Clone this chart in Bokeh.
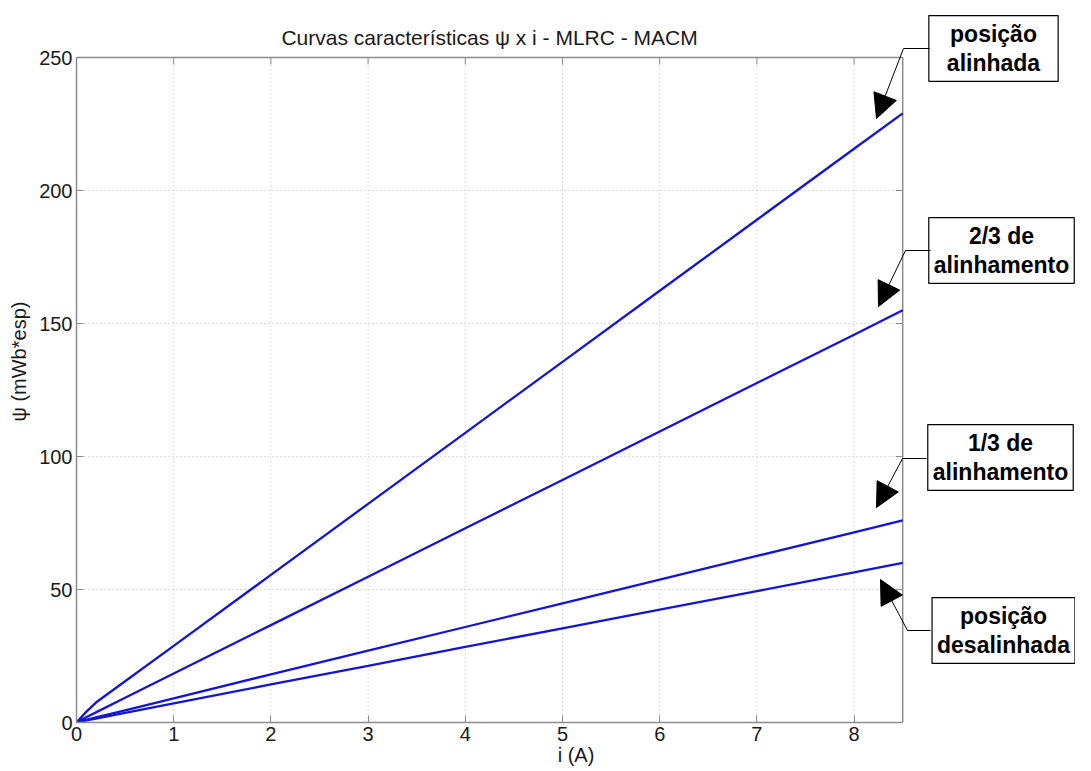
from bokeh.plotting import figure
from bokeh.models import Range1d, FixedTicker, Label, Arrow, NormalHead
from bokeh.embed import file_html
from bokeh.resources import INLINE

# data
i_vals = [0, 0.1, 0.2, 0.5, 1, 2, 3, 4, 5, 6, 7, 8, 8.5]
psi_alinhada = [0, 4.0, 7.5, 15.5, 28.8, 55.5, 82.2, 108.9, 135.6, 162.3, 189.0, 215.7, 229.0]
psi_2_3 = [0, 2.0, 3.8, 9.3, 18.4, 36.6, 54.8, 73.0, 91.2, 109.4, 127.6, 145.8, 155.0]
psi_1_3 = [0, 1.0, 1.9, 4.6, 9.1, 18.1, 27.0, 35.9, 44.8, 53.7, 62.6, 71.5, 76.0]
psi_desalinhada = [0, 0.8, 1.5, 3.6, 7.2, 14.3, 21.3, 28.4, 35.4, 42.4, 49.4, 56.4, 60.0]
x_ticks = [0, 1, 2, 3, 4, 5, 6, 7, 8]
y_ticks = [0, 50, 100, 150, 200, 250]
X_MAX, Y_MAX = 8.5, 250
title_text = "Curvas características ψ x i - MLRC - MACM"
box_texts = ["posição\nalinhada", "2/3 de\nalinhamento", "1/3 de\nalinhamento", "posição\ndesalinhada"]

# layout: frame covers the plot area plus the annotation area on the right/top
W, H = 1075, 768
LEFT, BOTTOM = 76, 46
PX_X = 97.2   # pixels per A
PX_Y = 2.66   # pixels per mWb*esp
Y0_PX = H - BOTTOM

p = figure(width=W, height=H, output_backend="svg", toolbar_location=None,
           x_range=Range1d(0, (W - LEFT) / PX_X), y_range=Range1d(0, Y0_PX / PX_Y),
           min_border_left=LEFT, min_border_right=0, min_border_top=0, min_border_bottom=BOTTOM)
p.outline_line_color = None
p.xgrid.visible = False
p.ygrid.visible = False

AX = "#8c8c8c"
for ax in p.xaxis + p.yaxis:
    ax.axis_line_color = AX
    ax.axis_line_width = 1.5
    ax.major_tick_in = 7
    ax.major_tick_out = 0
    ax.minor_tick_line_color = None
    ax.major_tick_line_color = AX
    ax.major_label_text_font = "Liberation Sans"
    ax.major_label_text_font_size = "20px"
    ax.major_label_text_color = "#1a1a1a"
    ax.axis_label_text_font = "Liberation Sans"
    ax.axis_label_text_font_size = "20px"
    ax.axis_label_text_font_style = "normal"
    ax.axis_label_text_color = "#1a1a1a"
p.xaxis.ticker = FixedTicker(ticks=x_ticks)
p.yaxis.ticker = FixedTicker(ticks=y_ticks)
p.xaxis.bounds = (0, X_MAX)
p.yaxis.bounds = (0, Y_MAX)
p.xaxis.axis_label = "i (A)"
p.yaxis.axis_label = "ψ (mWb*esp)"
p.xaxis.major_label_standoff = 4
p.xaxis.axis_label_standoff = 0
p.yaxis.major_label_standoff = 4
p.yaxis.axis_label_standoff = 6

def dx(px):
    return (px - LEFT) / PX_X

def dy(py):
    return (Y0_PX - py) / PX_Y

# dotted grid inside the axes box
p.segment(x0=x_ticks[1:], y0=[0] * (len(x_ticks) - 1), x1=x_ticks[1:], y1=[Y_MAX] * (len(x_ticks) - 1),
          line_color="#bdbdbd", line_dash="1 3", line_width=1)
p.segment(x0=[0] * (len(y_ticks) - 1), y0=y_ticks[1:], x1=[X_MAX] * (len(y_ticks) - 1), y1=y_ticks[1:],
          line_color="#bdbdbd", line_dash="1 3", line_width=1)

# top and right edges of the axes box with inward ticks
p.line([0, X_MAX, X_MAX], [Y_MAX, Y_MAX, 0], line_color=AX, line_width=1.5)
tick_dx = 7 / PX_X
tick_dy = 7 / PX_Y
p.segment(x0=x_ticks, y0=[Y_MAX] * len(x_ticks), x1=x_ticks, y1=[Y_MAX - tick_dy] * len(x_ticks),
          line_color=AX, line_width=1)
p.segment(x0=[X_MAX] * len(y_ticks), y0=y_ticks, x1=[X_MAX - tick_dx] * len(y_ticks), y1=y_ticks,
          line_color=AX, line_width=1)

for ys in (psi_alinhada, psi_2_3, psi_1_3, psi_desalinhada):
    p.line(i_vals, ys, line_color="#1414d8", line_width=2.3)

# title
p.add_layout(Label(x=X_MAX / 2, y=dy(37), text=title_text,
                   text_align="center", text_baseline="middle", text_font="Liberation Sans",
                   text_font_size="21px", text_color="#1a1a1a"))

box_pos = [(993, 48, (18, 5)), (1001, 250, (5, 5)), (1000, 457, (5, 5)), (1003, 630, (5, 5))]
for txt, (cx, cy, pad) in zip(box_texts, box_pos):
    p.add_layout(Label(x=dx(cx), y=dy(cy), text=txt, text_align="center", text_baseline="middle",
                       text_font="Liberation Sans", text_font_style="bold", text_font_size="23px",
                       text_line_height=1.15, text_color="black",
                       border_line_color="black", border_line_width=1.2,
                       background_fill_color="white", padding=pad))

connectors = [
    ((929, 48), (903, 48), (876, 118)),
    ((930, 250), (905, 250), (878, 306)),
    ((926, 458), (902, 458), (876, 507)),
    ((930, 630), (907, 630), (880, 579)),
]
for (x0, y0), (x1, y1), (x2, y2) in connectors:
    p.add_layout(Arrow(x_start=dx(x0), y_start=dy(y0), x_end=dx(x1), y_end=dy(y1),
                       end=None, line_color="black", line_width=1))
    p.add_layout(Arrow(x_start=dx(x1), y_start=dy(y1), x_end=dx(x2), y_end=dy(y2),
                       end=NormalHead(size=24, fill_color="black", line_color="black"),
                       line_color="black", line_width=1))

open("out.html", "w").write(file_html(p, INLINE))
